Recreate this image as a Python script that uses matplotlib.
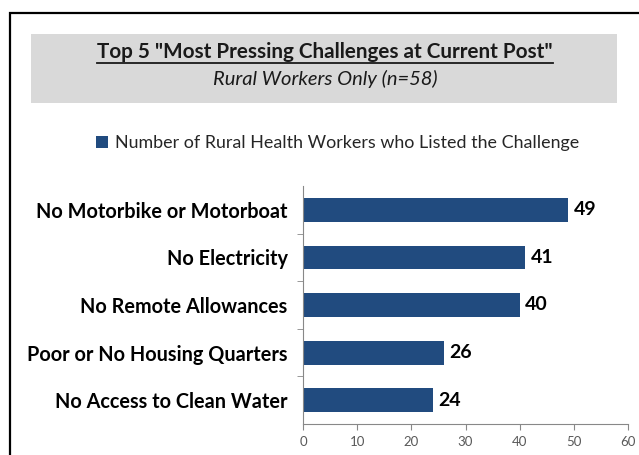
import matplotlib
matplotlib.use("Agg")
import matplotlib.pyplot as plt
from matplotlib.patches import Rectangle
import numpy as np

plt.rcParams['font.family'] = ['Lato', 'DejaVu Sans']

challenges = ['No Motorbike or Motorboat', 'No Electricity', 'No Remote Allowances',
              'Poor or No Housing Quarters', 'No Access to Clean Water']
counts = [49, 41, 40, 26, 24]
xticks = [0, 10, 20, 30, 40, 50, 60]

title = 'Top 5 "Most Pressing Challenges at Current Post"'
subtitle = 'Rural Workers Only (n=58)'
legend_label = 'Number of Rural Health Workers who Listed the Challenge'

bar_color = '#214B7F'
W, H = 639, 455

fig = plt.figure(figsize=(W / 100, H / 100), dpi=100)

# outer frame and grey title box
fig.patches.append(Rectangle((10 / W, -0.05), 1.1, 1 - 13 / H + 0.05, transform=fig.transFigure,
                             fill=False, edgecolor='black', linewidth=1.6))
fig.patches.append(Rectangle((31 / W, 1 - 103 / H), (617 - 31) / W, (103 - 34) / H,
                             transform=fig.transFigure, facecolor='#D9D9D9', edgecolor='none'))

fig.text(325 / W, 1 - 52 / H, title, ha='center', va='center', fontsize=14.9,
         fontweight='bold', color='#1a1a1a')
fig.add_artist(plt.Line2D([97 / W, 553 / W], [1 - 62.5 / H, 1 - 62.5 / H], color='#1a1a1a', linewidth=1.3))
fig.text(325 / W, 1 - 79 / H, subtitle, ha='center', va='center', fontsize=14.5,
         fontstyle='italic', color='#1a1a1a')

ax = fig.add_axes([303 / W, 1 - 424 / H, (628 - 303) / W, (424 - 186) / H])
y = np.arange(len(challenges))
bars = ax.barh(y, counts, height=0.5, color=bar_color, label=legend_label)
ax.set_ylim(len(challenges) - 0.5, -0.5)
ax.set_xlim(0, 60)
ax.set_xticks(xticks)
ax.set_yticks(y)
ax.set_yticklabels(challenges, fontsize=14.3, fontweight='bold', color='black')
ax.set_yticks(np.arange(len(challenges) - 1) + 0.5, minor=True)
ax.tick_params(axis='y', which='major', length=0, pad=11)
ax.tick_params(axis='y', which='minor', length=4, color='#888888', direction='out')
ax.tick_params(axis='x', length=4, color='#888888', labelsize=9.5, labelcolor='#595959', pad=5)
for s in ['top', 'right']:
    ax.spines[s].set_visible(False)
for s in ['left', 'bottom']:
    ax.spines[s].set_color('#888888')
    ax.spines[s].set_linewidth(0.8)

for b, v in zip(bars, counts):
    ax.text(v + 1, b.get_y() + b.get_height() / 2, str(v), va='center', ha='left',
            fontsize=14, fontweight='bold', color='black')

fig.legend(handles=[bars], labels=[legend_label], loc='center', bbox_to_anchor=(338 / W, 1 - 143 / H),
           frameon=False, fontsize=12.9, handlelength=0.65, handleheight=0.65, handletextpad=0.4,
           labelcolor='#262626')

fig.savefig('out.png', dpi=100)
